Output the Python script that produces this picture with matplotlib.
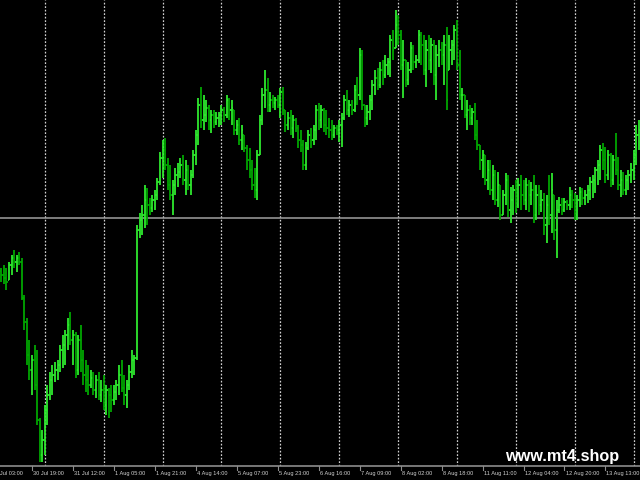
import numpy as np
import matplotlib
matplotlib.use("Agg")
import matplotlib.pyplot as plt
from matplotlib.collections import LineCollection

# H1 bars, price in points above the bottom of the window
high = [198, 201, 198, 204, 211, 216, 211, 214, 208, 171,
        148, 126, 111, 121, 116, 48, 36, 61, 81, 94,
        101, 104, 106, 121, 131, 136, 148, 154, 136, 134,
        131, 141, 116, 106, 101, 96, 94, 91, 94, 86,
        91, 81, 78, 81, 81, 86, 101, 106, 91, 86,
        101, 116, 111, 241, 253, 261, 281, 278, 268, 271,
        276, 288, 314, 326, 328, 308, 301, 286, 298, 303,
        308, 311, 306, 301, 296, 316, 336, 368, 379, 371,
        366, 361, 356, 356, 354, 354, 361, 359, 371, 368,
        366, 356, 346, 348, 341, 331, 321, 318, 306, 298,
        316, 351, 378, 396, 388, 374, 371, 369, 371, 378,
        379, 356, 354, 356, 351, 348, 341, 336, 326, 324,
        336, 338, 341, 361, 363, 361, 358, 356, 348, 346,
        341, 341, 346, 353, 371, 376, 366, 366, 381, 389,
        418, 416, 361, 361, 371, 386, 396, 398, 404, 406,
        411, 408, 431, 436, 456, 451, 436, 426, 406, 404,
        424, 421, 411, 436, 434, 431, 426, 431, 428, 426,
        421, 426, 424, 431, 439, 431, 426, 441, 446, 416,
        378, 371, 366, 361, 358, 363, 346, 321, 316, 311,
        306, 306, 301, 296, 294, 281, 276, 293, 291, 279,
        281, 286, 288, 291, 286, 288, 286, 284, 291, 281,
        281, 276, 273, 271, 291, 293, 271, 266, 269, 268,
        268, 266, 279, 276, 273, 271, 279, 278, 276, 281,
        289, 291, 299, 306, 321, 323, 319, 316, 313, 311,
        333, 309, 296, 294, 291, 296, 303, 316, 341, 346]

low = [184, 182, 176, 186, 191, 198, 194, 201, 166, 136,
       101, 86, 71, 76, 41, 4, 4, 11, 41, 66,
       71, 84, 86, 94, 98, 101, 116, 121, 101, 88,
       91, 94, 81, 74, 71, 78, 71, 68, 66, 64,
       56, 51, 48, 54, 61, 66, 71, 74, 61, 58,
       76, 88, 91, 106, 228, 231, 238, 241, 251, 254,
       256, 266, 281, 288, 296, 276, 266, 251, 271, 279,
       288, 281, 271, 276, 271, 288, 301, 321, 338, 336,
       344, 336, 333, 338, 341, 339, 341, 344, 348, 346,
       341, 331, 331, 321, 316, 314, 296, 288, 276, 268,
       266, 311, 341, 358, 354, 354, 358, 356, 358, 348,
       351, 334, 336, 331, 328, 334, 318, 314, 296, 296,
       316, 318, 321, 326, 336, 338, 334, 331, 328, 326,
       328, 331, 324, 319, 346, 351, 349, 351, 354, 361,
       366, 356, 339, 341, 346, 356, 371, 376, 378, 381,
       388, 391, 389, 406, 418, 421, 396, 368, 379, 381,
       393, 396, 398, 403, 401, 391, 379, 396, 393, 381,
       366, 399, 401, 381, 356, 396, 401, 406, 396, 366,
       356, 348, 336, 341, 341, 326, 316, 296, 288, 281,
       276, 271, 266, 261, 259, 246, 251, 261, 249, 243,
       251, 253, 258, 256, 261, 256, 254, 261, 243, 246,
       251, 254, 231, 223, 241, 233, 226, 208, 253, 251,
       254, 256, 256, 258, 246, 246, 259, 261, 261, 263,
       266, 268, 273, 281, 286, 296, 283, 286, 279, 281,
       291, 276, 269, 271, 271, 276, 283, 286, 301, 316]

close = [191, 188, 184, 201, 208, 204, 208, 204, 168, 144,
         111, 96, 106, 81, 46, 11, 26, 56, 71, 86,
         91, 96, 101, 116, 121, 131, 141, 126, 131, 96,
         126, 106, 91, 86, 81, 88, 76, 86, 71, 76,
         61, 76, 71, 66, 74, 81, 91, 78, 71, 81,
         94, 106, 108, 236, 246, 251, 266, 261, 258, 266,
         271, 284, 308, 316, 301, 281, 271, 281, 291, 294,
         301, 286, 296, 281, 291, 311, 331, 361, 346, 351,
         358, 346, 351, 344, 348, 351, 356, 351, 366, 356,
         358, 336, 341, 326, 336, 318, 306, 296, 281, 276,
         311, 346, 371, 376, 361, 366, 363, 366, 361, 374,
         356, 341, 348, 338, 346, 338, 326, 321, 301, 318,
         331, 326, 336, 356, 346, 356, 341, 338, 336, 331,
         338, 336, 341, 348, 366, 356, 361, 356, 376, 371,
         411, 361, 348, 354, 366, 381, 388, 381, 396, 391,
         401, 404, 426, 416, 441, 431, 401, 406, 386, 396,
         418, 404, 406, 431, 421, 396, 416, 406, 421, 391,
         411, 416, 411, 421, 366, 416, 421, 436, 401, 371,
         371, 351, 356, 348, 354, 331, 321, 306, 311, 286,
         296, 276, 291, 266, 281, 251, 271, 286, 256, 266,
         276, 261, 281, 271, 266, 281, 271, 276, 251, 271,
         261, 266, 241, 261, 251, 276, 236, 256, 261, 256,
         264, 261, 271, 266, 251, 266, 274, 268, 271, 276,
         284, 286, 296, 301, 316, 306, 291, 311, 286, 306,
         296, 281, 286, 276, 286, 291, 296, 311, 331, 336]

first_open = 195
hline_price = 248

tick_labels = ["30 Jul 03:00", "30 Jul 19:00", "31 Jul 12:00", "1 Aug 05:00",
               "1 Aug 21:00", "4 Aug 14:00", "5 Aug 07:00", "5 Aug 23:00",
               "6 Aug 16:00", "7 Aug 09:00", "8 Aug 02:00", "8 Aug 18:00",
               "11 Aug 11:00", "12 Aug 04:00", "12 Aug 20:00", "13 Aug 13:00"]
tick_bars = [-4 + 16 * k for k in range(len(tick_labels))]
day_bars = [17 + 23 * k for k in range(11)]   # vertical grid at day starts

high = np.array(high)
low = np.array(low)
close = np.array(close)
n = len(close)
x = np.arange(n)
opn = np.clip(np.r_[first_open, close[:-1]], low, high)

fig = plt.figure(figsize=(6.4, 4.8), dpi=100, facecolor="black")
ax = fig.add_axes([0, 14 / 480, 1, 466 / 480])
ax.set_facecolor("black")
ax.set_xlim(-0.5, n - 0.5)
ax.set_ylim(0, 466)
for s in ["top", "left", "right"]:
    ax.spines[s].set_visible(False)
ax.spines["bottom"].set_color("#8c8c8c")
ax.spines["bottom"].set_linewidth(1.2)
ax.set_xticks([])
ax.set_yticks([])

for b in day_bars:
    ax.axvline(b, color="#d0d0d0", lw=0.9, ls=(0, (1.4, 1.4)), zorder=1)
ax.axhline(hline_price, color="#a0a0a0", lw=1.1, zorder=1)

segs = []
cols = []
for i in range(n):
    segs.append([(x[i], low[i]), (x[i], high[i])])
    segs.append([(x[i] - 0.5, opn[i]), (x[i], opn[i])])
    segs.append([(x[i], close[i]), (x[i] + 0.5, close[i])])
    c = "#2ee82e" if close[i] >= opn[i] else "#00a600"
    cols += [c, c, c]
ax.add_collection(LineCollection(segs, colors=cols, linewidths=1.3, zorder=3))

# time scale under the chart
tr = ax.get_xaxis_transform()
for b, lab in zip(tick_bars, tick_labels):
    ax.plot([b, b], [0, -3.5 / 466], color="#8c8c8c", lw=0.8,
            transform=tr, clip_on=False)
    ax.text(b + 0.4, -7.5 / 466, lab, transform=tr, color="#d0d0d0",
            fontsize=4.1, family="Liberation Sans", ha="left", va="center",
            clip_on=False)

fig.text(505 / 640, 1 - 461 / 480, "www.mt4.shop", color="white",
         fontsize=11.7, fontweight="bold", family="Liberation Sans",
         ha="left", va="baseline")

fig.savefig("out.png", dpi=100, facecolor="black")
